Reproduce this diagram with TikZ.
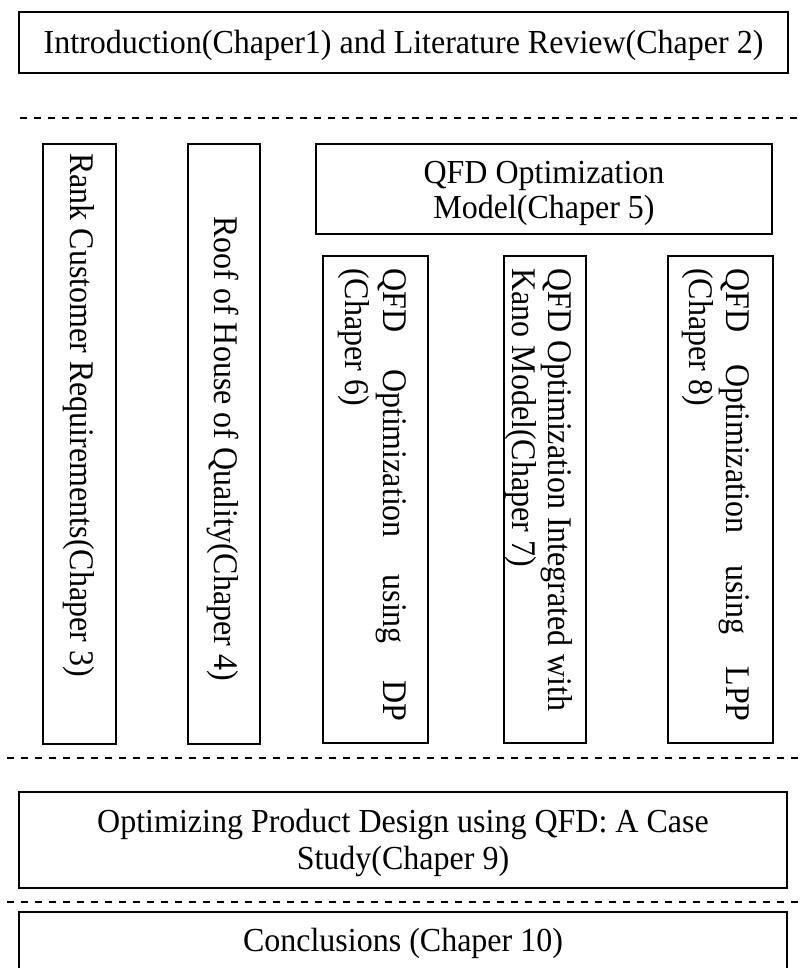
\documentclass[tikz,border=0pt]{standalone}
\usepackage{fontspec}
\setmainfont{Liberation Serif}
\usetikzlibrary{fit}

\begin{document}
\begin{tikzpicture}[x=0.75pt, y=-0.75pt,
  box/.style={draw, line width=1.5pt, inner sep=0pt},
  sepline/.style={line width=1.4pt, dash pattern=on 5.25pt off 5.25pt},
  htext/.style={font=\fontsize{24}{28}\selectfont, inner sep=0pt, anchor=base, yscale=1.05},
  vtext/.style={font=\fontsize{24}{28}\selectfont, inner sep=0pt, rotate=-90, yscale=1.08, anchor=base west}]
\clip (0,0) rectangle (800,968);
\fill[white] (0,0) rectangle (800,968);

% top: introduction
\node[box, fit={(19,12) (788,73)}] (intro) {};
\node[htext] (introtxt) at (403.5,53) {Introduction(Chaper1) and Literature Review(Chaper 2)};

% separators
\coordinate (s1a) at (20,118);  \coordinate (s1b) at (800,118);
\coordinate (s2a) at (7,758);   \coordinate (s2b) at (800,758);
\coordinate (s3a) at (7,902);   \coordinate (s3b) at (800,902);
\draw[sepline] (s1a) -- (s1b);
\draw[sepline] (s2a) -- (s2b);
\draw[sepline] (s3a) -- (s3b);

% middle band: chapter columns
\node[box, fit={(43,144) (116,744)}] (rank) {};
\node[vtext] (ranktxt) at (70,153) {Rank Customer Requirements(Chaper 3)};

\node[box, fit={(188,144) (260,744)}] (roof) {};
\node[vtext] (rooftxt) at (214,216) {Roof of House of Quality(Chaper 4)};

\node[box, fit={(316,144) (772,234)}] (model) {};
\node[htext] (modeltxta) at (544,183) {QFD Optimization};
\node[htext] (modeltxtb) at (544,218) {Model(Chaper 5)};

\node[box, fit={(323,256) (428,743)}] (dp) {};
\node[vtext] (dptxta) at (383,268) {\hbox to 340pt{QFD\hfil Optimization\hfil using\hfil DP}};
\node[vtext] (dptxtb) at (345,268) {(Chaper 6)};

\node[box, fit={(504,256) (586,743)}] (kano) {};
\node[vtext] (kanotxta) at (548,268) {QFD Optimization Integrated with};
\node[vtext] (kanotxtb) at (512,268) {Kano Model(Chaper 7)};

\node[box, fit={(668,256) (773,743)}] (lpp) {};
\node[vtext] (lpptxta) at (726,268) {\hbox to 340pt{QFD\hfil Optimization\hfil using\hfil LPP}};
\node[vtext] (lpptxtb) at (689,268) {(Chaper 8)};

% bottom: case study and conclusions
\node[box, fit={(19,792) (787,888)}] (case) {};
\node[htext] (casetxta) at (403,832) {Optimizing Product Design using QFD: A Case};
\node[htext] (casetxtb) at (403,869) {Study(Chaper 9)};

\node[box, fit={(19,912) (787,985)}] (concl) {};
\node[htext] (concltxt) at (403,951) {Conclusions (Chaper 10)};
\end{tikzpicture}
\end{document}
